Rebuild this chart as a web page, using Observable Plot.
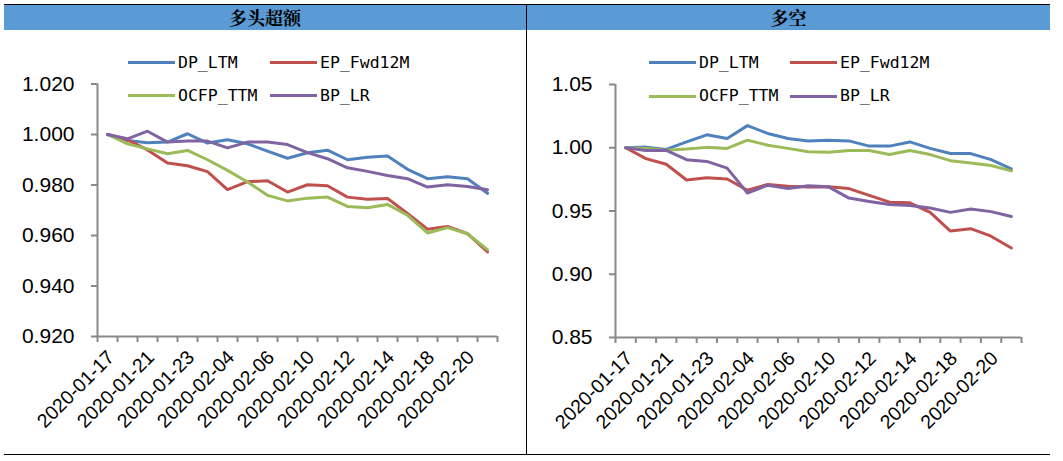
<!DOCTYPE html>
<html>
<head>
<meta charset="utf-8">
<script src="https://cdn.jsdelivr.net/npm/d3@7"></script>
<script src="https://cdn.jsdelivr.net/npm/@observablehq/plot@0.6"></script>
<style>
  html, body { margin: 0; padding: 0; background: #fff; }
  #wrap { position: relative; width: 1063px; height: 461px; overflow: hidden; background: #fff; }
  .abs { position: absolute; }
  .hdr { position: absolute; top: 5px; height: 25px; background: #5B9BD5; line-height: 25px; text-align: center;
         font-family: "Noto Serif CJK SC", "Noto Sans CJK SC", sans-serif; font-weight: bold; font-size: 18px; color: #000; }
  .leg { position: absolute; font-family: "DejaVu Sans Mono", monospace; font-size: 16.5px; color: #000; line-height: 20px; white-space: nowrap; }
</style>
</head>
<body>
<div id="wrap"></div>
<script>
// ---- data ----
const dates = ["2020-01-17","2020-01-20","2020-01-21","2020-01-22","2020-01-23","2020-02-03","2020-02-04","2020-02-05","2020-02-06","2020-02-07",
               "2020-02-10","2020-02-11","2020-02-12","2020-02-13","2020-02-14","2020-02-17","2020-02-18","2020-02-19","2020-02-20","2020-02-21"];
const seriesNames = ["DP_LTM", "EP_Fwd12M", "OCFP_TTM", "BP_LR"];
const seriesColors = ["#4F81BD", "#C0504D", "#9BBB59", "#8064A2"];

// 多头超额
const longDP   = [1.000,0.9976,0.9967,0.9970,1.0003,0.9966,0.9979,0.9963,0.9934,0.9906,0.9928,0.9938,0.9900,0.9910,0.9915,0.9862,0.9825,0.9833,0.9825,0.9767];
const longEP   = [1.000,0.9979,0.9939,0.9887,0.9876,0.9853,0.9782,0.9813,0.9817,0.9772,0.9801,0.9797,0.9752,0.9744,0.9747,0.9687,0.9625,0.9636,0.9607,0.9535];
const longOCFP = [1.000,0.9963,0.9943,0.9924,0.9937,0.9900,0.9858,0.9812,0.9759,0.9737,0.9748,0.9752,0.9715,0.9710,0.9723,0.9680,0.9610,0.9631,0.9607,0.9544];
const longBP   = [1.000,0.9983,1.0013,0.9970,0.9974,0.9974,0.9947,0.9970,0.9970,0.9960,0.9928,0.9904,0.9868,0.9854,0.9838,0.9825,0.9792,0.9801,0.9794,0.9781];

// 多空
const lsDP   = [1.000,1.0005,0.9987,1.0046,1.0102,1.0073,1.0175,1.0113,1.0073,1.0054,1.0059,1.0054,1.0013,1.0013,1.0046,0.9995,0.9954,0.9954,0.9906,0.9833];
const lsEP   = [1.000,0.9914,0.9870,0.9745,0.9763,0.9753,0.9664,0.9710,0.9696,0.9690,0.9691,0.9677,0.9624,0.9570,0.9565,0.9489,0.9341,0.9360,0.9301,0.9207];
const lsOCFP = [1.000,0.9995,0.9980,0.9990,1.0003,0.9995,1.0060,1.0020,0.9995,0.9968,0.9965,0.9978,0.9978,0.9946,0.9978,0.9946,0.9898,0.9879,0.9860,0.9817];
const lsBP   = [1.000,0.9978,0.9980,0.9906,0.9892,0.9839,0.9642,0.9704,0.9677,0.9699,0.9691,0.9602,0.9575,0.9551,0.9543,0.9524,0.9489,0.9516,0.9495,0.9457];

const longTicks = [0.920, 0.940, 0.960, 0.980, 1.000, 1.020];
const lsTicks = [0.85, 0.90, 0.95, 1.00, 1.05];
const labelIdx = [0,2,4,6,8,10,12,14,16,18];

// ---- helpers ----
const wrap = document.getElementById("wrap");
function box(style) { const d = document.createElement("div"); d.className = "abs"; Object.assign(d.style, style); wrap.appendChild(d); return d; }

function tidy(arrs) {
  const out = [];
  arrs.forEach((a, s) => a.forEach((v, i) => out.push({i, v, s: seriesNames[s]})));
  return out;
}

const sansFont = "'Liberation Sans', Arial, sans-serif";

function panel(arrs, ticks, fmt, opts) {
  const data = tidy(arrs);
  const bounds = d3.range(-0.5, 20, 1);
  const axisColor = "#898989";
  const p = Plot.plot({
    width: opts.width, height: opts.height,
    marginLeft: opts.ml, marginRight: opts.mr, marginTop: opts.mt, marginBottom: opts.mb,
    style: {background: "transparent", overflow: "visible"},
    x: {type: "linear", domain: [-0.5, 19.5]},
    y: {domain: [ticks[0], ticks[ticks.length - 1]]},
    color: {domain: seriesNames, range: seriesColors},
    marks: [
      Plot.axisY({ticks, tickSize: 6, tickPadding: 17, tickFormat: fmt, stroke: axisColor, strokeWidth: 2,
                  fill: "#000", fontSize: 21, fontFamily: sansFont, label: null}),
      Plot.axisX({ticks: bounds, tickSize: 6, tickFormat: () => "", stroke: axisColor, strokeWidth: 2, label: null}),
      Plot.ruleX([-0.5], {stroke: axisColor, strokeWidth: 2}),
      Plot.ruleY([ticks[0]], {stroke: axisColor, strokeWidth: 2}),
      Plot.text(labelIdx, {x: d => d, text: d => dates[d], frameAnchor: "bottom", rotate: -45, textAnchor: "end",
                           dx: 8, dy: 22, fontSize: 19.5, fontFamily: sansFont, fill: "#000"}),
      Plot.line(data, {x: "i", y: "v", z: "s", stroke: "s", strokeWidth: 3, strokeLinejoin: "round"})
    ]
  });
  const holder = box({left: opts.left + "px", top: opts.top + "px"});
  holder.appendChild(p);
}

// ---- frame ----
box({left: "4px", top: "3.5px", width: "1046px", height: "1.5px", background: "#000"});
const h1 = document.createElement("div"); h1.className = "hdr"; h1.style.left = "4px"; h1.style.width = "522px"; h1.textContent = "多头超额"; wrap.appendChild(h1);
const h2 = document.createElement("div"); h2.className = "hdr"; h2.style.left = "527px"; h2.style.width = "523px"; h2.textContent = "多空"; wrap.appendChild(h2);
box({left: "525.5px", top: "4px", width: "1.5px", height: "451px", background: "#000"});
box({left: "4px", top: "453.5px", width: "1046px", height: "1.5px", background: "#000"});

// ---- panels ----
panel([longDP, longEP, longOCFP, longBP], longTicks, d3.format(".3f"),
      {left: 4, top: 31, width: 522, height: 423, ml: 93, mr: 29, mt: 52.5, mb: 118});
panel([lsDP, lsEP, lsOCFP, lsBP], lsTicks, d3.format(".2f"),
      {left: 527, top: 31, width: 523, height: 423, ml: 88, mr: 29, mt: 53, mb: 117});

// ---- legends ----
function legend(x0, x1, y0, y1) {
  const pos = [[x0, y0], [x1, y0], [x0, y1], [x1, y1]];
  seriesNames.forEach((name, k) => {
    const [x, y] = pos[k];
    box({left: x + "px", top: (y - 1.5) + "px", width: "47px", height: "3px", background: seriesColors[k]});
    const t = document.createElement("div"); t.className = "leg";
    t.style.left = (x + 50) + "px"; t.style.top = (y - 10) + "px"; t.textContent = name; wrap.appendChild(t);
  });
}
legend(128, 270, 62.5, 95.5);
legend(649, 790, 62.5, 96);
</script>
</body>
</html>
